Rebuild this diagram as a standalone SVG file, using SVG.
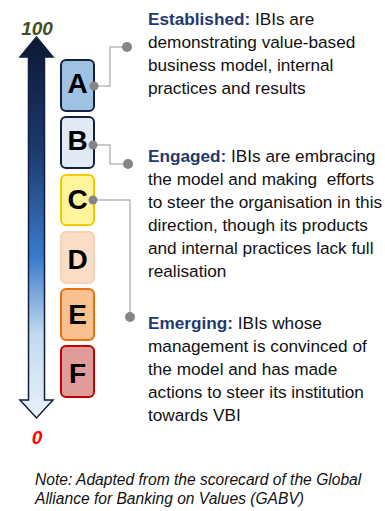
<svg xmlns="http://www.w3.org/2000/svg" width="385" height="511" viewBox="0 0 385 511">
  <style>
    .lvl { stroke-width: 2; }
    .letter { font-family: "Liberation Sans", Arial, sans-serif; font-weight: bold; font-size: 28px; fill: #000; text-anchor: middle; }
    .desc { font-family: "Liberation Sans", Arial, sans-serif; font-size: 17.2px; fill: #111; white-space: pre; }
    .head { font-weight: bold; fill: #1f3a6e; }
    .note { font-family: "Liberation Sans", Arial, sans-serif; font-style: italic; font-size: 15.6px; fill: #111; }
    .conn { fill: none; stroke: #b8b8b8; stroke-width: 1.5; }
    .dot { fill: #858585; }
  </style>
  <defs>
    <linearGradient id="scaleGrad" x1="0" y1="37" x2="0" y2="418" gradientUnits="userSpaceOnUse">
      <stop offset="0" stop-color="#0c1833"/>
      <stop offset="0.3" stop-color="#1d3a6e"/>
      <stop offset="0.58" stop-color="#3a7ccc"/>
      <stop offset="0.78" stop-color="#c2d9ef"/>
      <stop offset="1" stop-color="#e8f2f9"/>
    </linearGradient>
  </defs>

  <rect width="385" height="511" fill="#fff"/>

  <!-- vertical scale arrow, 100 at top, 0 at bottom -->
  <g id="scale">
    <path d="M36.5 37 L53 57 L44.5 57 L44.5 400 L53 400 L36.5 418 L20 400 L28.5 400 L28.5 57 L20 57 Z" fill="url(#scaleGrad)" stroke="#0f1f3d" stroke-width="1.5" stroke-linejoin="miter"/>
    <text x="37" y="35" font-family="Liberation Sans, Arial, sans-serif" font-weight="bold" font-style="italic" font-size="19" fill="#434d1c" text-anchor="middle">100</text>
    <text x="37" y="444" font-family="Liberation Sans, Arial, sans-serif" font-weight="bold" font-style="italic" font-size="19" fill="#ff0000" text-anchor="middle">0</text>
  </g>

  <!-- rating levels -->
  <g id="level-a">
    <rect class="lvl" x="61" y="60" width="33" height="51" rx="5" fill="#9fc1e4" stroke="#13213f"/>
    <text class="letter" x="77.5" y="93">A</text>
  </g>
  <g id="level-b">
    <rect class="lvl" x="61" y="117" width="33" height="51" rx="5" fill="#e1e9f4" stroke="#13213f"/>
    <text class="letter" x="77.5" y="150">B</text>
  </g>
  <g id="level-c">
    <rect class="lvl" x="61" y="175" width="33" height="50" rx="5" fill="#fff59a" stroke="#f5c800"/>
    <text class="letter" x="77.5" y="209">C</text>
  </g>
  <g id="level-d">
    <rect class="lvl" x="61" y="232" width="33" height="51" rx="5" fill="#fbdcc5" stroke="#f9d2b4"/>
    <text class="letter" x="77.5" y="269">D</text>
  </g>
  <g id="level-e">
    <rect class="lvl" x="61" y="289" width="33" height="51" rx="5" fill="#f9c18f" stroke="#e8700f"/>
    <text class="letter" x="77.5" y="324">E</text>
  </g>
  <g id="level-f">
    <rect class="lvl" x="61" y="346" width="33" height="51" rx="5" fill="#e09b9b" stroke="#c00000"/>
    <text class="letter" x="77.5" y="383">F</text>
  </g>

  <!-- connectors from levels to descriptions -->
  <g id="connectors">
    <polyline class="conn" points="94,86 110,86 110,47 127,47"/>
    <circle class="dot" cx="94" cy="86" r="4.5"/>
    <circle class="dot" cx="127" cy="47" r="5"/>

    <polyline class="conn" points="93,145 110,145 110,164 128,164"/>
    <circle class="dot" cx="93" cy="145" r="4.5"/>
    <circle class="dot" cx="128" cy="164" r="5"/>

    <polyline class="conn" points="93,200 130,200 130,317"/>
    <circle class="dot" cx="93" cy="200" r="4.5"/>
    <circle class="dot" cx="130" cy="317" r="5"/>
  </g>

  <!-- descriptions -->
  <g id="established">
    <text class="desc" x="148" y="25"><tspan class="head">Established:</tspan> IBIs are</text>
    <text class="desc" x="148" y="48">demonstrating value-based</text>
    <text class="desc" x="148" y="71">business model, internal</text>
    <text class="desc" x="148" y="94">practices and results</text>
  </g>
  <g id="engaged">
    <text class="desc" x="148" y="162"><tspan class="head">Engaged:</tspan> IBIs are embracing</text>
    <text class="desc" x="148" y="185" xml:space="preserve">the model and making  efforts</text>
    <text class="desc" x="148" y="208">to steer the organisation in this</text>
    <text class="desc" x="148" y="231">direction, though its products</text>
    <text class="desc" x="148" y="254">and internal practices lack full</text>
    <text class="desc" x="148" y="277">realisation</text>
  </g>
  <g id="emerging">
    <text class="desc" x="148" y="329"><tspan class="head">Emerging:</tspan> IBIs whose</text>
    <text class="desc" x="148" y="352">management is convinced of</text>
    <text class="desc" x="148" y="375">the model and has made</text>
    <text class="desc" x="148" y="398">actions to steer its institution</text>
    <text class="desc" x="148" y="421">towards VBI</text>
  </g>

  <g id="note">
    <text class="note" x="35" y="485">Note: Adapted from the scorecard of the Global</text>
    <text class="note" x="35" y="504">Alliance for Banking on Values (GABV)</text>
  </g>
</svg>
